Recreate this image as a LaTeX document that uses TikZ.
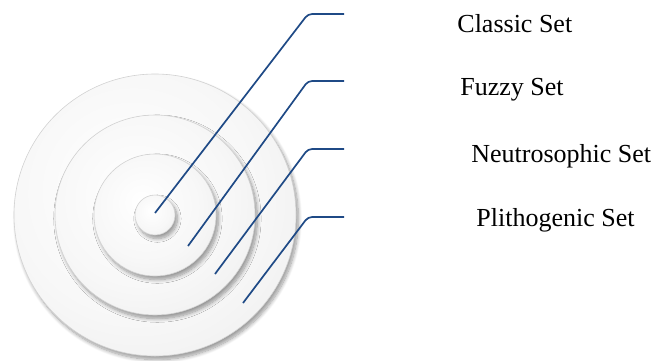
\documentclass[tikz,border=0pt]{standalone}
\usepackage{fontspec}
\setmainfont{Liberation Serif}
\usetikzlibrary{shadows.blur}
\definecolor{leaderblue}{HTML}{1F4A86}
\pgfdeclareradialshading{discshade}{\pgfpoint{-6bp}{6bp}}{color(0bp)=(white); color(22bp)=(white!97!black); color(40bp)=(white!92!black); color(47bp)=(white!86!black); color(52bp)=(white!68!black)}
\tikzset{
  ring/.style={circle, inner sep=0pt, shading=discshade,
    draw=gray!35, line width=0.3pt,
    blur shadow={shadow xshift=1.2pt, shadow yshift=-1.8pt, shadow blur steps=10, shadow opacity=40}},
  leader/.style={draw=leaderblue, line width=0.85pt, rounded corners=2pt},
  setlabel/.style={anchor=base west, inner sep=0pt, font=\fontsize{13}{15}\selectfont}
}
\begin{document}
\begin{tikzpicture}[x=0.5pt,y=-0.5pt]
\useasboundingbox (0,0) rectangle (657,360);
\node[ring, minimum size=141pt] (plitho) at (155,215) {};
\node[ring, minimum size=100pt] (neutro) at (155,215) {};
\node[ring, minimum size=61pt] (fuzzy) at (155,215) {};
\node[ring, minimum size=20pt] (classic) at (155,215) {};
\coordinate (p1) at (155,213); \coordinate (k1) at (308,14); \coordinate (e1) at (344,14);
\coordinate (p2) at (188,246); \coordinate (k2) at (308,81); \coordinate (e2) at (344,81);
\coordinate (p3) at (215,274); \coordinate (k3) at (308,149); \coordinate (e3) at (344,149);
\coordinate (p4) at (243,303); \coordinate (k4) at (308,217); \coordinate (e4) at (344,217);
\draw[leader] (p1) -- (k1) -- (e1);
\draw[leader] (p2) -- (k2) -- (e2);
\draw[leader] (p3) -- (k3) -- (e3);
\draw[leader] (p4) -- (k4) -- (e4);
\node[setlabel] (lclassic) at (457,32) {Classic Set};
\node[setlabel] (lfuzzy) at (460,95) {Fuzzy Set};
\node[setlabel] (lneutro) at (471,162) {Neutrosophic Set};
\node[setlabel] (lplitho) at (476,226) {Plithogenic Set};
\end{tikzpicture}
\end{document}
